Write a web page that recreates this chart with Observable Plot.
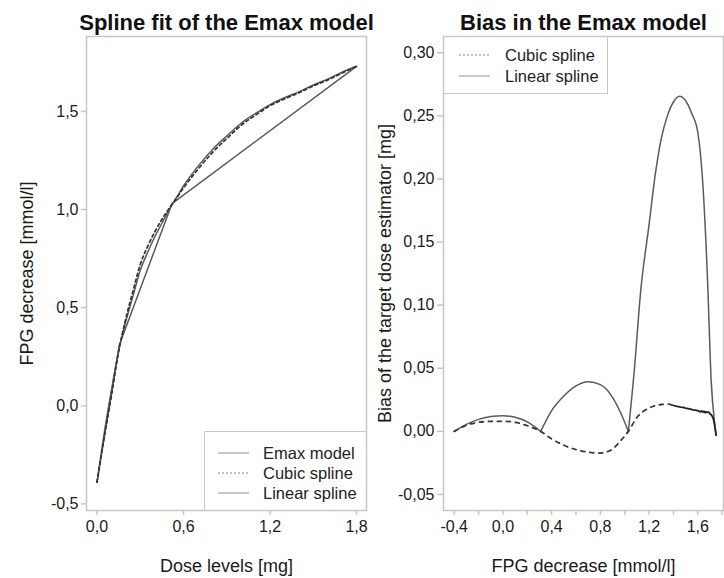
<!DOCTYPE html>
<html><head><meta charset="utf-8">
<script src="https://cdn.jsdelivr.net/npm/d3@7"></script>
<script src="https://cdn.jsdelivr.net/npm/@observablehq/plot@0.6"></script>
<style>
body{margin:0;background:#fff;font-family:"Liberation Sans",Arial,sans-serif;}
#wrap{position:relative;width:724px;height:578px;overflow:hidden;background:#fff;}
#wrap svg.plt{position:absolute;top:0;}
.legend{position:absolute;border:1.5px solid #c8c8c8;box-sizing:border-box;font-size:16.5px;color:#222;}
.row{position:absolute;left:0;height:20px;display:flex;align-items:center;white-space:nowrap;}
.row svg{display:block;}
</style></head><body><div id="wrap"></div>
<script>
// ---------- data ----------
const titles = ["Spline fit of the Emax model", "Bias in the Emax model"];
const xLabels = ["Dose levels [mg]", "FPG decrease [mmol/l]"];
const yLabels = ["FPG decrease [mmol/l]", "Bias of the target dose estimator [mg]"];
const leftLegend = ["Emax model", "Cubic spline", "Linear spline"];
const rightLegend = ["Cubic spline", "Linear spline"];

const doseGrid = [0, 0.05, 0.10, 0.15, 0.20, 0.25, 0.30, 0.35, 0.40, 0.45, 0.50, 0.55, 0.60, 0.70, 0.80, 0.90, 1.00, 1.10, 1.20, 1.30, 1.40, 1.50, 1.60, 1.70, 1.80];
const emaxFPG  = [-0.39, -0.14, 0.08, 0.28, 0.43, 0.56, 0.69, 0.78, 0.86, 0.93, 1.00, 1.06, 1.12, 1.22, 1.305, 1.375, 1.44, 1.49, 1.535, 1.57, 1.60, 1.635, 1.665, 1.70, 1.73];
const cubicFPG = [-0.39, -0.16, 0.05, 0.275, 0.445, 0.585, 0.72, 0.81, 0.885, 0.95, 1.005, 1.056, 1.11, 1.205, 1.29, 1.362, 1.43, 1.481, 1.529, 1.564, 1.595, 1.63, 1.66, 1.696, 1.73];
const linKnotDose = [0, 0.155, 0.52, 1.8];
const linKnotFPG  = [-0.39, 0.31, 1.03, 1.73];

const linBiasFPG = [-0.40, -0.30, -0.20, -0.10, 0.00, 0.10, 0.20, 0.31, 0.40, 0.50, 0.60, 0.70, 0.80, 0.90, 0.97, 1.03, 1.08, 1.13, 1.20, 1.25, 1.30, 1.35, 1.40, 1.45, 1.50, 1.55, 1.60, 1.64, 1.68, 1.71, 1.74, 1.75];
const linBias    = [0, 0.0055, 0.0095, 0.0117, 0.0124, 0.0112, 0.0075, 0, 0.0165, 0.028, 0.036, 0.0393, 0.037, 0.027, 0.014, 0, 0.05, 0.11, 0.164, 0.203, 0.232, 0.250, 0.261, 0.2655, 0.262, 0.252, 0.237, 0.198, 0.12, 0.04, 0.005, -0.003];
const biasKnots  = [0.31, 1.03];

const cubicBiasFPG = [-0.40, -0.30, -0.20, -0.10, 0.00, 0.10, 0.20, 0.31, 0.40, 0.50, 0.60, 0.70, 0.80, 0.90, 0.97, 1.03, 1.10, 1.20, 1.30, 1.35, 1.40];
const cubicBias    = [0, 0.0048, 0.0072, 0.0079, 0.008, 0.0072, 0.0045, 0, -0.006, -0.011, -0.0145, -0.0165, -0.0172, -0.014, -0.007, 0, 0.011, 0.0185, 0.0213, 0.0216, 0.0205];
const cubicTailFPG = [1.40, 1.42, 1.44, 1.46, 1.48, 1.50, 1.52, 1.54, 1.56, 1.58, 1.60, 1.62, 1.63, 1.64, 1.65, 1.66, 1.67, 1.68, 1.69, 1.70, 1.71, 1.72, 1.73, 1.74, 1.75];
const cubicTail    = [0.0205, 0.0200, 0.0196, 0.0192, 0.0190, 0.0184, 0.0180, 0.0176, 0.0170, 0.0168, 0.0164, 0.0155, 0.0162, 0.0152, 0.0160, 0.0148, 0.0156, 0.0150, 0.0153, 0.0140, 0.0132, 0.0118, 0.009, 0.004, -0.003];

const leftXTicks = [0, 0.6, 1.2, 1.8];
const leftXTickLabels = ["0,0", "0,6", "1,2", "1,8"];
const leftYTicks = [-0.5, 0, 0.5, 1.0, 1.5];
const leftYTickLabels = ["-0,5", "0,0", "0,5", "1,0", "1,5"];
const rightXTicks = [-0.4, -0.2, 0, 0.2, 0.4, 0.6, 0.8, 1.0, 1.2, 1.4, 1.6, 1.8];
const rightXTickLabels = ["-0,4", "", "0,0", "", "0,4", "", "0,8", "", "1,2", "", "1,6", ""];
const rightYTicks = [-0.05, 0, 0.05, 0.10, 0.15, 0.20, 0.25, 0.30];
const rightYTickLabels = ["-0,05", "0,00", "0,05", "0,10", "0,15", "0,20", "0,25", "0,30"];

// ---------- helpers ----------
const lab = (ticks, labels) => d => { const i = ticks.findIndex(t => Math.abs(t - d) < 1e-9); return i < 0 ? "" : labels[i]; };
const FONT = '"Liberation Sans", Arial, Helvetica, sans-serif';
const FRAME = "#c6c6c6";
const TXT = "#1a1a1a";

const emaxRows = doseGrid.map((d, i) => ({dose: d, fpg: emaxFPG[i]}));
const cubicRows = doseGrid.map((d, i) => ({dose: d, fpg: cubicFPG[i]}));
const linRows = linKnotDose.map((d, i) => ({dose: d, fpg: linKnotFPG[i]}));

const linBiasRows = [];
linBiasFPG.forEach((x, i) => {
  const arc = biasKnots.filter(k => x > k + 1e-9).length;
  linBiasRows.push({x, y: linBias[i], arc});
  if (biasKnots.some(k => Math.abs(k - x) < 1e-9)) linBiasRows.push({x, y: linBias[i], arc: arc + 1});
});
const cubicBiasRows = cubicBiasFPG.map((x, i) => ({x, y: cubicBias[i]}));
const cubicTailRows = cubicTailFPG.map((x, i) => ({x, y: cubicTail[i]}));

const common = {height: 578, marginTop: 36, marginBottom: 68,
  style: {background: "transparent", fontFamily: FONT, fontSize: "16px", color: TXT}};

const left = Plot.plot({
  ...common, width: 380, marginLeft: 86, marginRight: 14,
  x: {domain: [-0.0728, 1.869]},
  y: {domain: [-0.534, 1.882]},
  marks: [
    Plot.frame({stroke: FRAME, strokeWidth: 1.5}),
    Plot.axisX({ticks: leftXTicks, tickFormat: lab(leftXTicks, leftXTickLabels), tickSize: 5, tickPadding: 5, stroke: FRAME, strokeWidth: 1.5, fill: TXT, label: null}),
    Plot.axisY({ticks: leftYTicks, tickFormat: lab(leftYTicks, leftYTickLabels), tickSize: 5, tickPadding: 3, stroke: FRAME, strokeWidth: 1.5, fill: TXT, label: null}),
    Plot.line(linRows, {x: "dose", y: "fpg", stroke: "#5a5a5a", strokeWidth: 1.5}),
    Plot.line(emaxRows, {x: "dose", y: "fpg", stroke: "#5a5a5a", strokeWidth: 1.5, curve: "monotone-x"}),
    Plot.line(cubicRows, {x: "dose", y: "fpg", stroke: "#333", strokeWidth: 1.7, strokeDasharray: "3,3", curve: "monotone-x"}),
    Plot.text([titles[0]], {text: d => d, frameAnchor: "top", dy: -14, lineAnchor: "middle", fontSize: 22, fontWeight: "bold", fill: "#111"}),
    Plot.text([xLabels[0]], {text: d => d, frameAnchor: "bottom", dy: 56, lineAnchor: "middle", fontSize: 18, fill: TXT}),
    Plot.text([yLabels[0]], {text: d => d, frameAnchor: "left", dx: -59, rotate: -90, lineAnchor: "middle", textAnchor: "middle", fontSize: 18, fill: TXT})
  ]
});
left.classList.add("plt");
left.style.left = "0px";

const right = Plot.plot({
  ...common, width: 362, marginLeft: 81, marginRight: 1,
  x: {domain: [-0.488, 1.811]},
  y: {domain: [-0.0627, 0.3129]},
  marks: [
    Plot.frame({stroke: FRAME, strokeWidth: 1.5}),
    Plot.axisX({ticks: rightXTicks, tickFormat: lab(rightXTicks, rightXTickLabels), tickSize: 5, tickPadding: 5, stroke: FRAME, strokeWidth: 1.5, fill: TXT, label: null}),
    Plot.axisY({ticks: rightYTicks, tickFormat: lab(rightYTicks, rightYTickLabels), tickSize: 6, tickPadding: 3, stroke: FRAME, strokeWidth: 1.5, fill: TXT, label: null}),
    Plot.line(linBiasRows, {x: "x", y: "y", z: "arc", stroke: "#5a5a5a", strokeWidth: 1.5, curve: "monotone-x"}),
    Plot.line(cubicBiasRows, {x: "x", y: "y", stroke: "#3a3a3a", strokeWidth: 1.8, strokeDasharray: "4,5", curve: "monotone-x"}),
    Plot.line(cubicTailRows, {x: "x", y: "y", stroke: "#222", strokeWidth: 1.8}),
    Plot.text([titles[1]], {text: d => d, frameAnchor: "top", dy: -14, lineAnchor: "middle", fontSize: 22, fontWeight: "bold", fill: "#111"}),
    Plot.text([xLabels[1]], {text: d => d, frameAnchor: "bottom", dy: 56, lineAnchor: "middle", fontSize: 18, fill: TXT}),
    Plot.text([yLabels[1]], {text: d => d, frameAnchor: "left", dx: -58, rotate: -90, lineAnchor: "middle", textAnchor: "middle", fontSize: 18, fill: TXT})
  ]
});
right.classList.add("plt");
right.style.left = "362px";

const wrap = document.getElementById("wrap");
wrap.appendChild(left);
wrap.appendChild(right);

// ---------- legends ----------
function legend(box, items, dashes, rowTops, sampleLeft, textLeft) {
  const div = document.createElement("div");
  div.className = "legend";
  Object.assign(div.style, {left: box[0] + "px", top: box[1] + "px", width: box[2] + "px", height: box[3] + "px"});
  items.forEach((t, i) => {
    const r = document.createElement("div");
    r.className = "row";
    r.style.top = rowTops[i] + "px";
    r.style.left = sampleLeft + "px";
    r.innerHTML = `<svg width="31" height="4"><line x1="0" y1="2" x2="31" y2="2" stroke="#aaa" stroke-width="1.3" ${dashes[i] ? `stroke-dasharray="${dashes[i]}"` : ""}/></svg><span style="margin-left:${textLeft - sampleLeft - 31}px">${t}</span>`;
    div.appendChild(r);
  });
  wrap.appendChild(div);
}
legend([204, 431, 163, 80], leftLegend, [null, "2,2", null], [11, 31, 51], 13, 58);
legend([443, 36, 165, 58], rightLegend, ["2,2", null], [8, 29], 15, 61);
</script></body></html>
